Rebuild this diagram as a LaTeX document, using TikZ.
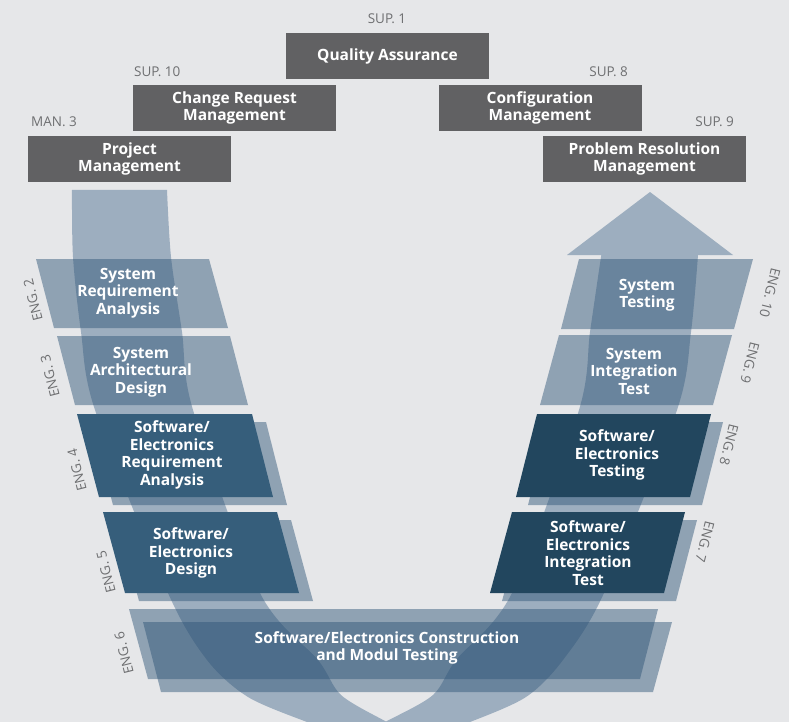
\documentclass[tikz,border=0pt]{standalone}
\usepackage{fontspec}
\setmainfont{Open Sans}
\definecolor{bgcol}{HTML}{E6E7E9}
\definecolor{supgray}{HTML}{616163}
\definecolor{lblgray}{HTML}{6E6F71}
\definecolor{bandcol}{HTML}{9DAEBF}
\definecolor{stepcol}{HTML}{2F5577}
\definecolor{engblue}{HTML}{365E7B}
\definecolor{engdark}{HTML}{22465E}
\begin{document}
\begin{tikzpicture}[x=1pt,y=-1pt,
  supbox/.style={fill=supgray,text=white,minimum width=203,minimum height=46,inner sep=0,
    font=\bfseries\fontsize{15.5}{17.5}\selectfont,align=center},
  steptext/.style={text=white,inner sep=0,font=\bfseries\fontsize{15.5}{17.5}\selectfont,align=center},
  lbl/.style={text=lblgray,inner sep=0,font=\fontsize{13.5}{16}\selectfont},
  stepfill/.style={fill=stepcol,fill opacity=.47}]
\useasboundingbox[fill=bgcol] (0,0) rectangle (789,722);
% the U arrow
\fill[bandcol] plot[smooth] coordinates {(72,190) (73,257) (81,332) (95,410) (168,593) (207,660) (248,697) (307,722) (340,733)}
  -- plot[smooth] coordinates {(415,736) (385,721) (341,695) (318,660) (260,593) (193,410) (182,332) (171,257) (167,190)} -- cycle;
\fill[bandcol] (602,255) -- (567,255) -- (650,192) -- (733,255) -- (698,255)
  -- plot[smooth] coordinates {(698,255) (691,332) (677,410) (604,593) (563,660) (526,697) (470,722) (435,733)}
  -- plot[smooth] coordinates {(357,736) (387,721) (433,695) (456,660) (512,593) (579,410) (590,332) (601,257) (602,255)} -- cycle;
% support and management boxes
\node[supbox] (qa) at (387.5,56) {Quality Assurance};
\node[supbox] (cr) at (234.5,108) {Change Request\\Management};
\node[supbox] (pm) at (129.5,159) {Project\\Management};
\node[supbox] (cm) at (540,108) {Configuration\\Management};
\node[supbox] (pr) at (644.5,159) {Problem Resolution\\Management};
\node[lbl] (sup1) at (387,19) {SUP. 1};
\node[lbl,anchor=west] (sup10) at (134,72) {SUP. 10};
\node[lbl,anchor=west] (man3) at (31,122) {MAN. 3};
\node[lbl,anchor=east] (sup8) at (628,72) {SUP. 8};
\node[lbl,anchor=east] (sup9) at (734,122) {SUP. 9};
% left side
\fill[stepfill] (36,259) -- (209,259) -- (228,328) -- (54,328) -- cycle;
\fill[stepfill] (57,336) -- (230,336) -- (248,405) -- (75,405) -- cycle;
\fill[stepfill] (91,422) -- (266,422) -- (287,505) -- (113,505) -- cycle;
\fill[engblue] (77,414) -- (252,414) -- (273,497) -- (99,497) -- cycle;
\fill[stepfill] (117,520) -- (291,520) -- (313,601) -- (139,601) -- cycle;
\fill[engblue] (103,512) -- (277,512) -- (299,593) -- (125,593) -- cycle;
% right side
\fill[stepfill] (579,259) -- (753,259) -- (734,329) -- (561,329) -- cycle;
\fill[stepfill] (559,335) -- (732,335) -- (713,405) -- (540,405) -- cycle;
\fill[stepfill] (549,422) -- (723,422) -- (702,505) -- (528,505) -- cycle;
\fill[engdark] (537,414) -- (711,414) -- (690,497) -- (516,497) -- cycle;
\fill[stepfill] (524,520) -- (697,520) -- (676,601) -- (502,601) -- cycle;
\fill[engdark] (512,512) -- (685,512) -- (664,593) -- (490,593) -- cycle;
% bottom
\fill[stepfill] (129,609) -- (658,609) -- (640,679) -- (148,679) -- cycle;
\fill[stepfill] (143,622) -- (672,622) -- (653,692) -- (161,692) -- cycle;
\node[steptext] (eng2) at (128,293) {System\\Requirement\\Analysis};
\node[steptext] (eng3) at (141,372) {System\\Architectural\\Design};
\node[steptext] (eng4) at (172,455) {Software/\\Electronics\\Requirement\\Analysis};
\node[steptext] (eng5) at (191,553) {Software/\\Electronics\\Design};
\node[steptext] (eng6) at (387,648) {Software/Electronics Construction\\and Modul Testing};
\node[steptext] (eng7) at (588,553) {Software/\\Electronics\\Integration\\Test};
\node[steptext] (eng8) at (617,455) {Software/\\Electronics\\Testing};
\node[steptext] (eng9) at (634,371) {System\\Integration\\Test};
\node[steptext] (eng10) at (647,295) {System\\Testing};
\node[lbl,rotate=104] (l2) at (33,300) {ENG. 2};
\node[lbl,rotate=104] (l3) at (50,376) {ENG. 3};
\node[lbl,rotate=104] (l4) at (77,470) {ENG. 4};
\node[lbl,rotate=104] (l5) at (106,572) {ENG. 5};
\node[lbl,rotate=104] (l6) at (124,653) {ENG. 6};
\node[lbl,rotate=-104] (l7) at (705,542) {ENG. 7};
\node[lbl,rotate=-104] (l8) at (729,445) {ENG. 8};
\node[lbl,rotate=-104] (l9) at (750,363) {ENG. 9};
\node[lbl,rotate=-104] (l10) at (770,293) {ENG. 10};
\end{tikzpicture}
\end{document}
